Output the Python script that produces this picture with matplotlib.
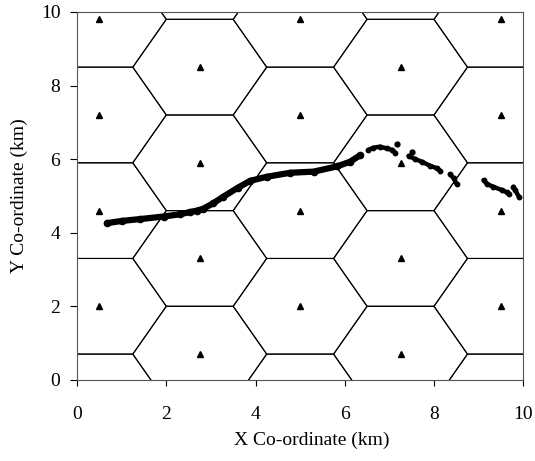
import numpy as np
import matplotlib
matplotlib.use("Agg")
import matplotlib.pyplot as plt
from matplotlib.patches import RegularPolygon

# ----- Cell layout (flat-topped hexagons) -----
cell_radius = 1.5                      # km
col_x = [0.5, 2.75, 5.0, 7.25, 9.5]    # base station columns
even_col_y = [2.0, 4.6, 7.2, 9.8]      # stations in columns 0, 2, 4
odd_col_y = [0.7, 3.3, 5.9, 8.5]       # stations in columns 1, 3
extra_even_y = [-0.6, 12.4]            # cells outside the plot (edges only)
extra_odd_y = [-1.9, 11.1]

# ----- Mobile trajectory segments (km) -----
seg_x = [
    [0.67, 1.0, 1.41, 1.94, 2.3, 2.53, 2.68, 2.83, 3.05, 3.28, 3.6, 3.88,
     4.25, 4.78, 5.3, 5.82, 6.12, 6.35],
    [6.53, 6.64, 6.79, 6.94, 7.06, 7.13],
    [7.43, 7.58, 7.73, 7.91, 8.07, 8.14],
    [8.36, 8.44, 8.51],
    [9.11, 9.19, 9.33, 9.52, 9.63, 9.69],
    [9.78, 9.82, 9.9],
]
seg_y = [
    [4.26, 4.32, 4.37, 4.44, 4.5, 4.56, 4.6, 4.65, 4.8, 4.98, 5.22, 5.41,
     5.52, 5.63, 5.66, 5.8, 5.93, 6.11],
    [6.25, 6.31, 6.34, 6.29, 6.25, 6.18],
    [6.09, 6.0, 5.93, 5.82, 5.75, 5.68],
    [5.59, 5.48, 5.32],
    [5.43, 5.32, 5.25, 5.16, 5.1, 5.04],
    [5.25, 5.16, 4.98],
]
stray_x = [7.17, 7.5]
stray_y = [6.40, 6.20]

plt.rcParams["font.family"] = ["Liberation Serif", "DejaVu Serif"]

fig = plt.figure(figsize=(5.35, 4.61), dpi=100)
ax = fig.add_axes([0.144, 0.176, 0.834, 0.798])

# Hexagonal cells
for i, cx in enumerate(col_x):
    ys = even_col_y + extra_even_y if i % 2 == 0 else odd_col_y + extra_odd_y
    for cy in ys:
        hexagon = RegularPolygon((cx, cy), numVertices=6, radius=cell_radius,
                                 orientation=np.pi / 6, fill=False,
                                 edgecolor="black", linewidth=0.8)
        ax.add_patch(hexagon)

# Base stations
for i, cx in enumerate(col_x):
    ys = even_col_y if i % 2 == 0 else odd_col_y
    ax.plot([cx] * len(ys), ys, linestyle="none", marker="^",
            markersize=5, color="black")

# Trajectory
for k, (xs, ys) in enumerate(zip(seg_x, seg_y)):
    lw = 4.5 if k == 0 else 3.2
    ax.plot(xs, ys, color="black", linewidth=lw, solid_capstyle="round",
            marker="o", markersize=lw, zorder=3)
ax.plot(stray_x, stray_y, linestyle="none", marker="o", markersize=3.5,
        color="black", zorder=3)

ax.set_xlim(0, 10)
ax.set_ylim(0, 10)
ax.set_xticks(np.arange(0, 11, 2))
ax.set_yticks(np.arange(0, 11, 2))
ax.tick_params(axis="x", direction="out", length=4, width=0.8, pad=15,
               labelsize=14)
ax.tick_params(axis="y", direction="out", length=5, width=0.8, pad=7,
               labelsize=14)
for sp in ax.spines.values():
    sp.set_color("#555555")
    sp.set_linewidth(0.8)

ax.set_xlabel("X Co-ordinate (km)", fontsize=14)
ax.set_ylabel("Y Co-ordinate (km)", fontsize=14)
ax.xaxis.set_label_coords(0.525, -0.14)
ax.yaxis.set_label_coords(-0.11, 0.5)

fig.savefig("out.png", dpi=100)
